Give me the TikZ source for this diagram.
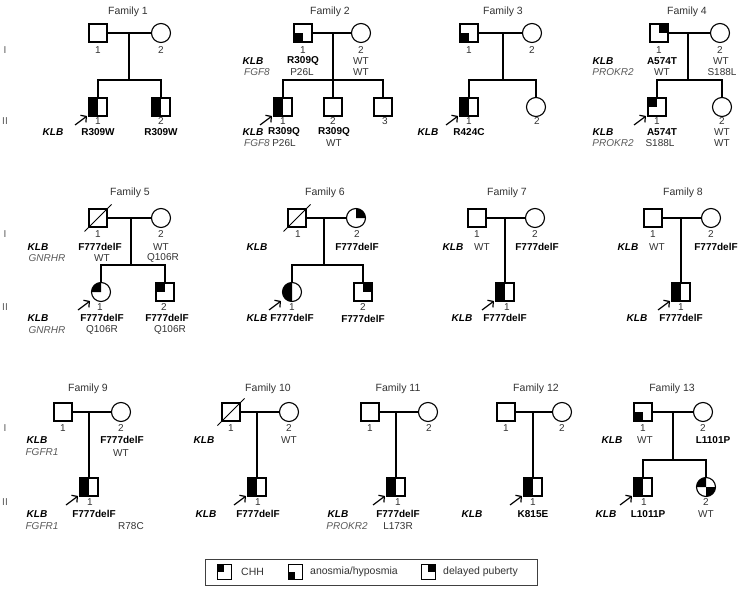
\documentclass[tikz,border=0pt]{standalone}
\usepackage{fontspec}
\setmainfont{Liberation Sans}
\usetikzlibrary{calc,arrows.meta}
\definecolor{ink}{HTML}{333333}
\definecolor{soft}{HTML}{5A5A5A}
\newcounter{lbl}
\tikzset{
  sym/.style={draw=black, line width=1.15pt, inner sep=0pt, outer sep=0pt},
  male/.style={sym, rectangle, minimum size=18pt},
  female/.style={sym, circle, minimum size=19pt},
  link/.style={line width=1.15pt},
  dead/.style={line width=1pt},
  proband/.style={line width=1.2pt, -{Straight Barb[length=4pt,width=9pt]}},
  txt/.style={inner sep=0pt, text=ink, font=\fontsize{10}{11}\selectfont},
  plain/.style={txt},
  num/.style={txt},
  famtitle/.style={txt, font=\fontsize{10.5}{12}\selectfont},
  mut/.style={txt, text=black, font=\fontsize{10}{11}\selectfont\bfseries},
  klb/.style={txt, text=black, font=\fontsize{10}{11}\selectfont\bfseries\itshape},
  gene/.style={txt, text=soft, font=\fontsize{10}{11}\selectfont\itshape},
  genlab/.style={txt, text=soft},
  legtxt/.style={txt, anchor=west, font=\fontsize{10.5}{12}\selectfont},
  keyicon/.style={sym, rectangle, line width=1pt, minimum width=14pt, minimum height=15pt},
}
% individuals
\newcommand{\Male}[3]{\node[male] (#1) at (#2,-#3) {};}
\newcommand{\Female}[3]{\node[female] (#1) at (#2,-#3) {};}
% text labels, auto-named
\newcommand{\Txt}[4][plain]{\stepcounter{lbl}\node[#1] (lbl\arabic{lbl}) at (#2,-#3) {#4};}
% quadrant shading of squares
\newcommand{\SqTL}[1]{\fill (#1.north west) rectangle (#1.center);}
\newcommand{\SqTR}[1]{\fill (#1.north) rectangle (#1.east);}
\newcommand{\SqBL}[1]{\fill (#1.west) rectangle (#1.south);}
\newcommand{\SqL}[1]{\fill (#1.north west) rectangle (#1.south);}
% sector shading of circles
\newcommand{\CiQ}[3]{\fill (#1.center) -- (#1.#2) arc[start angle=#2, end angle=#3, radius=9.5pt] -- cycle;}
% deceased slash and proband arrow
\newcommand{\Dead}[1]{\draw[dead] ($(#1.south west)+(-4.5,-4.5)$) -- ($(#1.north east)+(4.5,4.5)$);}
\newcommand{\Prob}[1]{\draw[proband] ($(#1.center)+(-23,-18)$) -- ($(#1.center)+(-11,-9)$);}

\begin{document}
\begin{tikzpicture}[x=1pt,y=1pt]
\useasboundingbox (0,0) rectangle (739,-599);
\fill[white] (0,0) rectangle (739,-599);

% generation numerals
\Txt[genlab]{5}{50}{I}   \Txt[genlab]{5}{121}{II}
\Txt[genlab]{5}{234}{I}  \Txt[genlab]{5}{307}{II}
\Txt[genlab]{5}{428}{I}  \Txt[genlab]{5}{502}{II}

% ---------------- Family 1
\Txt[famtitle]{128}{12}{Family 1}
\Male{f1a}{98}{33} \Female{f1b}{161}{33}
\Male{f1c}{98}{107} \Male{f1d}{161}{107}
\SqL{f1c} \SqL{f1d}
\coordinate (f1m) at (129,-33); \coordinate (f1s) at (129,-80);
\draw[link] (f1a) -- (f1b);
\draw[link] (f1m) -- (f1s);
\draw[link] (f1c) |- (f1s) -| (f1d);
\Prob{f1c}
\Txt[num]{98}{50}{1} \Txt[num]{161}{50}{2}
\Txt[num]{98}{121}{1} \Txt[num]{161}{121}{2}
\Txt[klb]{53}{132}{KLB} \Txt[mut]{98}{132}{R309W} \Txt[mut]{161}{132}{R309W}

% ---------------- Family 2
\Txt[famtitle]{330}{12}{Family 2}
\Male{f2a}{303}{33} \Female{f2b}{361}{33}
\Male{f2c}{283}{107} \Male{f2d}{333}{107} \Male{f2e}{383}{107}
\SqBL{f2a} \SqL{f2c}
\coordinate (f2m) at (333,-33); \coordinate (f2s) at (333,-80);
\draw[link] (f2a) -- (f2b);
\draw[link] (f2m) -- (f2d);
\draw[link] (f2c) |- (f2s) -| (f2e);
\Prob{f2c}
\Txt[num]{303}{50}{1} \Txt[num]{361}{50}{2}
\Txt[klb]{253}{61}{KLB} \Txt[mut]{303}{61}{R309Q} \Txt{361}{61}{WT}
\Txt[gene]{257}{72}{FGF8} \Txt{302}{72}{P26L} \Txt{361}{72}{WT}
\Txt[num]{283}{121}{1} \Txt[num]{333}{121}{2} \Txt[num]{385}{121}{3}
\Txt[klb]{253}{132}{KLB} \Txt[mut]{284}{132}{R309Q} \Txt[mut]{334}{132}{R309Q}
\Txt[gene]{257}{143}{FGF8} \Txt{284}{143}{P26L} \Txt{334}{143}{WT}

% ---------------- Family 3
\Txt[famtitle]{503}{12}{Family 3}
\Male{f3a}{469}{33} \Female{f3b}{532}{33}
\Male{f3c}{469}{107} \Female{f3d}{536}{107}
\SqBL{f3a} \SqL{f3c}
\coordinate (f3m) at (503,-33); \coordinate (f3s) at (503,-80);
\draw[link] (f3a) -- (f3b);
\draw[link] (f3m) -- (f3s);
\draw[link] (f3c) |- (f3s) -| (f3d);
\Prob{f3c}
\Txt[num]{469}{50}{1} \Txt[num]{532}{50}{2}
\Txt[num]{469}{121}{1} \Txt[num]{537}{121}{2}
\Txt[klb]{428}{132}{KLB} \Txt[mut]{469}{132}{R424C}

% ---------------- Family 4
\Txt[famtitle]{687}{12}{Family 4}
\Male{f4a}{659}{33} \Female{f4b}{720}{33}
\Male{f4c}{657}{107} \Female{f4d}{722}{107}
\SqTR{f4a} \SqTL{f4c}
\coordinate (f4m) at (688,-33); \coordinate (f4s) at (688,-80);
\draw[link] (f4a) -- (f4b);
\draw[link] (f4m) -- (f4s);
\draw[link] (f4c) |- (f4s) -| (f4d);
\Prob{f4c}
\Txt[num]{659}{50}{1} \Txt[num]{720}{50}{2}
\Txt[klb]{603}{61}{KLB} \Txt[mut]{662}{61}{A574T} \Txt{721}{61}{WT}
\Txt[gene]{613}{72}{PROKR2} \Txt{662}{72}{WT} \Txt{722}{72}{S188L}
\Txt[num]{657}{121}{1} \Txt[num]{722}{121}{2}
\Txt[klb]{603}{132}{KLB} \Txt[mut]{662}{132}{A574T} \Txt{722}{132}{WT}
\Txt[gene]{613}{143}{PROKR2} \Txt{660}{143}{S188L} \Txt{722}{143}{WT}

% ---------------- Family 5
\Txt[famtitle]{130}{193}{Family 5}
\Male{f5a}{98}{218} \Female{f5b}{161}{218}
\Female{f5c}{101}{292} \Male{f5d}{165}{292}
\Dead{f5a} \CiQ{f5c}{90}{180} \SqTL{f5d}
\coordinate (f5m) at (131,-218); \coordinate (f5s) at (131,-265);
\draw[link] (f5a) -- (f5b);
\draw[link] (f5m) -- (f5s);
\draw[link] (f5c) |- (f5s) -| (f5d);
\Prob{f5c}
\Txt[num]{98}{234}{1} \Txt[num]{161}{234}{2}
\Txt[klb]{38}{247}{KLB} \Txt[mut]{100}{247}{F777delF} \Txt{161}{247}{WT}
\Txt[gene]{47}{258}{GNRHR} \Txt{102}{258}{WT} \Txt{163}{258}{Q106R}
\Txt[num]{100}{307}{1} \Txt[num]{164}{307}{2}
\Txt[klb]{38}{318}{KLB} \Txt[mut]{102}{318}{F777delF} \Txt[mut]{167}{318}{F777delF}
\Txt[gene]{47}{330}{GNRHR} \Txt{102}{330}{Q106R} \Txt{170}{330}{Q106R}

% ---------------- Family 6
\Txt[famtitle]{325}{193}{Family 6}
\Male{f6a}{297}{218} \Female{f6b}{356}{218}
\Female{f6c}{292}{292} \Male{f6d}{363}{292}
\Dead{f6a} \CiQ{f6b}{0}{90} \CiQ{f6c}{90}{270} \SqTR{f6d}
\coordinate (f6m) at (324,-218); \coordinate (f6s) at (324,-265);
\draw[link] (f6a) -- (f6b);
\draw[link] (f6m) -- (f6s);
\draw[link] (f6c) |- (f6s) -| (f6d);
\Prob{f6c}
\Txt[num]{298}{234}{1} \Txt[num]{357}{234}{2}
\Txt[klb]{257}{247}{KLB} \Txt[mut]{357}{247}{F777delF}
\Txt[num]{292}{307}{1} \Txt[num]{363}{307}{2}
\Txt[klb]{257}{318}{KLB} \Txt[mut]{292}{318}{F777delF} \Txt[mut]{363}{319}{F777delF}

% ---------------- Family 7
\Txt[famtitle]{507}{193}{Family 7}
\Male{f7a}{477}{218} \Female{f7b}{535}{218} \Male{f7c}{505}{292}
\SqL{f7c}
\coordinate (f7m) at (505,-218);
\draw[link] (f7a) -- (f7b);
\draw[link] (f7m) -- (f7c);
\Prob{f7c}
\Txt[num]{477}{234}{1} \Txt[num]{535}{234}{2}
\Txt[klb]{453}{247}{KLB} \Txt{482}{247}{WT} \Txt[mut]{537}{247}{F777delF}
\Txt[num]{507}{307}{1}
\Txt[klb]{462}{318}{KLB} \Txt[mut]{505}{318}{F777delF}

% ---------------- Family 8
\Txt[famtitle]{683}{193}{Family 8}
\Male{f8a}{653}{218} \Female{f8b}{711}{218} \Male{f8c}{681}{292}
\SqL{f8c}
\coordinate (f8m) at (681,-218);
\draw[link] (f8a) -- (f8b);
\draw[link] (f8m) -- (f8c);
\Prob{f8c}
\Txt[num]{653}{234}{1} \Txt[num]{711}{234}{2}
\Txt[klb]{628}{247}{KLB} \Txt{657}{247}{WT} \Txt[mut]{716}{247}{F777delF}
\Txt[num]{681}{307}{1}
\Txt[klb]{637}{318}{KLB} \Txt[mut]{681}{318}{F777delF}

% ---------------- Family 9
\Txt[famtitle]{88}{389}{Family 9}
\Male{f9a}{63}{412} \Female{f9b}{121}{412} \Male{f9c}{89}{487}
\SqL{f9c}
\coordinate (f9m) at (89,-412);
\draw[link] (f9a) -- (f9b);
\draw[link] (f9m) -- (f9c);
\Prob{f9c}
\Txt[num]{63}{428}{1} \Txt[num]{121}{428}{2}
\Txt[klb]{37}{440}{KLB} \Txt[mut]{122}{440}{F777delF}
\Txt[gene]{42}{452}{FGFR1} \Txt{121}{453}{WT}
\Txt[num]{90}{502}{1}
\Txt[klb]{37}{514}{KLB} \Txt[mut]{94}{514}{F777delF}
\Txt[gene]{42}{526}{FGFR1} \Txt{131}{526}{R78C}

% ---------------- Family 10
\Txt[famtitle]{268}{389}{Family 10}
\Male{f10a}{231}{412} \Female{f10b}{289}{412} \Male{f10c}{257}{487}
\Dead{f10a} \SqL{f10c}
\coordinate (f10m) at (257,-412);
\draw[link] (f10a) -- (f10b);
\draw[link] (f10m) -- (f10c);
\Prob{f10c}
\Txt[num]{231}{428}{1} \Txt[num]{289}{428}{2}
\Txt[klb]{204}{440}{KLB} \Txt{289}{440}{WT}
\Txt[num]{258}{502}{1}
\Txt[klb]{206}{514}{KLB} \Txt[mut]{258}{514}{F777delF}

% ---------------- Family 11
\Txt[famtitle]{398}{389}{Family 11}
\Male{f11a}{370}{412} \Female{f11b}{428}{412} \Male{f11c}{396}{487}
\SqL{f11c}
\coordinate (f11m) at (396,-412);
\draw[link] (f11a) -- (f11b);
\draw[link] (f11m) -- (f11c);
\Prob{f11c}
\Txt[num]{370}{428}{1} \Txt[num]{429}{428}{2}
\Txt[num]{398}{502}{1}
\Txt[klb]{338}{514}{KLB} \Txt[mut]{398}{514}{F777delF}
\Txt[gene]{347}{526}{PROKR2} \Txt{398}{526}{L173R}

% ---------------- Family 12
\Txt[famtitle]{536}{389}{Family 12}
\Male{f12a}{506}{412} \Female{f12b}{562}{412} \Male{f12c}{533}{487}
\SqL{f12c}
\coordinate (f12m) at (533,-412);
\draw[link] (f12a) -- (f12b);
\draw[link] (f12m) -- (f12c);
\Prob{f12c}
\Txt[num]{506}{428}{1} \Txt[num]{562}{428}{2}
\Txt[num]{533}{502}{1}
\Txt[klb]{472}{514}{KLB} \Txt[mut]{533}{514}{K815E}

% ---------------- Family 13
\Txt[famtitle]{672}{389}{Family 13}
\Male{f13a}{643}{412} \Female{f13b}{703}{412}
\Male{f13c}{643}{487} \Female{f13d}{706}{487}
\SqBL{f13a} \SqL{f13c} \CiQ{f13d}{90}{180} \CiQ{f13d}{270}{360}
\coordinate (f13m) at (673,-412); \coordinate (f13s) at (673,-460);
\draw[link] (f13a) -- (f13b);
\draw[link] (f13m) -- (f13s);
\draw[link] (f13c) |- (f13s) -| (f13d);
\Prob{f13c}
\Txt[num]{643}{428}{1} \Txt[num]{703}{428}{2}
\Txt[klb]{612}{440}{KLB} \Txt{645}{440}{WT} \Txt[mut]{713}{440}{L1101P}
\Txt[num]{644}{502}{1} \Txt[num]{706}{502}{2}
\Txt[klb]{606}{514}{KLB} \Txt[mut]{648}{514}{L1011P} \Txt{706}{514}{WT}

% ---------------- key
\node[draw=black!75, line width=0.8pt, minimum width=332pt, minimum height=26pt, inner sep=0pt] (key) at (371,-572) {};
\node[keyicon] (k1) at (224,-572) {}; \SqTL{k1}
\node[legtxt] (k1t) at (241,-572) {CHH};
\node[keyicon] (k2) at (295,-572) {}; \SqBL{k2}
\node[legtxt] (k2t) at (310,-572) {anosmia/hyposmia};
\node[keyicon] (k3) at (428,-572) {}; \SqTR{k3}
\node[legtxt] (k3t) at (443,-572) {delayed puberty};
\end{tikzpicture}
\end{document}
